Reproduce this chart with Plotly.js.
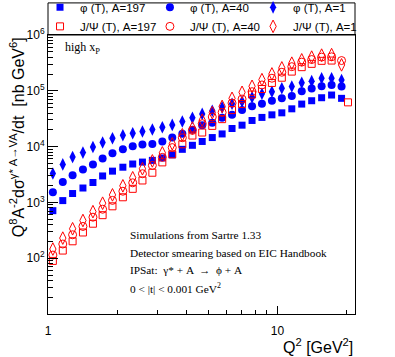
<!DOCTYPE html>
<html>
<head>
<meta charset="utf-8">
<script src="https://cdn.plot.ly/plotly-3.0.1.min.js"></script>
<style>
  html, body { margin: 0; padding: 0; background: #ffffff; }
  #chart { width: 395px; height: 357px; }
</style>
</head>
<body>
<div id="chart"></div>
<script>
// --- DATA ---
const q2 = [1.05, 1.16, 1.28, 1.42, 1.57, 1.73, 1.91, 2.12, 2.34, 2.58,
            2.85, 3.15, 3.48, 3.85, 4.26, 4.70, 5.20, 5.74, 6.34, 7.01,
            7.75, 8.56, 9.46, 10.45, 11.55, 12.76, 14.1, 15.58, 17.22, 19.03];
const q2Jpsi197 = [1.05, 1.16, 1.28, 1.42, 1.57, 1.73, 1.91, 2.12, 2.34, 2.58,
            2.85, 3.15, 3.48, 3.85, 4.26, 4.70, 5.20, 5.74, 6.34, 7.01,
            7.75, 8.56, 9.46, 10.45, 11.55, 12.76, 14.1, 15.58, 17.22, 20.3];

const phiA197 = [711, 1077, 1442, 1811, 2275, 2978, 3632, 4273, 4877, 5280,
                 5665, 6256, 7115, 8937, 10550, 12360, 14520, 16870, 21090, 24210,
                 29390, 33340, 37080, 40290, 47550, 57820, 66370, 75140, 83980, 73260];
const phiA40 = [1521, 2321, 3077, 3898, 4800, 6105, 7568, 8937, 10120, 10870,
                11190, 12300, 14520, 17010, 20090, 24210, 26740, 33040, 37080, 45470,
                52810, 58310, 66040, 73260, 80560, 97960, 109900, 120400, 127300, 119500];
const phiA1 = [3304, 4800, 6500, 7800, 9840, 11810, 14120, 15990, 17380, 18620,
               20240, 22260, 24500, 28200, 32760, 38520, 43780, 50440, 58600, 64170,
               76360, 88680, 96380, 111000, 119500, 139300, 148900, 168000, 168000, 156600];
const jpsiA197 = [89.4, 137.1, 200.9, 289.1, 415, 590.6, 850.9, 1236, 1750, 2472,
                  3402, 5212, 7262, 10990, 15780, 17870, 23500, 31040, 45080, 57820,
                  85710, 107700, 138300, 171500, 220800, 265100, 304100, 344400, 348500, 62100];
const jpsiA40 = [113.7, 179.5, 263, 370.7, 543, 754, 1086, 1585, 2245, 3264,
                 4603, 6415, 9595, 14420, 19500, 25750, 34020, 41010, 60260, 71150,
                 96380, 127300, 168000, 215300, 270600, 326500, 363300, 401800, 406400, 348500];
const jpsiA1 = [145.9, 229.2, 337.1, 473.9, 682.8, 967.7, 1365, 1983, 2763, 4014,
                5548, 7731, 11230, 16320, 21530, 29780, 40630, 52600, 73260, 93970,
                120400, 158500, 200800, 257500, 312900, 359100, 401800, 436300, 445500, 291700];

const seriesNames = ['\u03c6 (T), A=197', '\u03c6 (T), A=40', '\u03c6 (T), A=1',
                     'J/\u03a8 (T), A=197', 'J/\u03a8 (T), A=40', 'J/\u03a8 (T), A=1'];

const BLUE = '#0000ff';
const RED = '#ff0000';

// each A value gets its own legend column (phi on top, J/Psi below)
function makeTrace(x, y, name, symbol, color, size, legendId) {
    const open = symbol.endsWith('-open');
    return {
        x: x,
        y: y,
        name: name,
        legend: legendId,
        type: 'scatter',
        mode: 'markers',
        marker: {
            symbol: symbol,
            size: size,
            color: color,
            line: { color: color, width: open ? 1 : 0 }
        },
        hoverinfo: 'x+y+name'
    };
}

const traces = [
    makeTrace(q2, phiA197, seriesNames[0], 'square', BLUE, 7, 'legend'),
    makeTrace(q2, phiA40, seriesNames[1], 'circle', BLUE, 8, 'legend2'),
    makeTrace(q2, phiA1, seriesNames[2], 'diamond-tall', BLUE, 9, 'legend3'),
    makeTrace(q2Jpsi197, jpsiA197, seriesNames[3], 'square-open', RED, 7, 'legend'),
    makeTrace(q2, jpsiA40, seriesNames[4], 'circle-open', RED, 8, 'legend2'),
    makeTrace(q2, jpsiA1, seriesNames[5], 'diamond-tall-open', RED, 9, 'legend3')
];

const serif = 'Liberation Serif, Times New Roman, serif';
const sans = 'Liberation Sans, Arial, sans-serif';

const infoLines = [
    'Simulations from Sartre 1.33',
    'Detector smearing based on EIC Handbook',
    'IPSat:  \u03b3* + A  \u2192  \u03d5 + A',
    '0 < |t| < 0.001 GeV<sup>2</sup>'
];
const infoY = [0.284, 0.219, 0.156, 0.093];

const annotations = infoLines.map((t, i) => ({
    text: t, xref: 'paper', yref: 'paper', x: 0.262, y: infoY[i],
    xanchor: 'left', yanchor: 'middle', showarrow: false,
    font: { family: serif, size: 11.3, color: '#000' }
}));

annotations.push({
    text: 'high x<sub>P</sub>', xref: 'paper', yref: 'paper', x: 0.05, y: 0.955,
    xanchor: 'left', yanchor: 'middle', showarrow: false,
    font: { family: serif, size: 12, color: '#000' }
});
annotations.push({
    text: 'Q<sup>2</sup> [GeV<sup>2</sup>]', xref: 'paper', yref: 'paper', x: 1.0, y: -0.115,
    xanchor: 'right', yanchor: 'middle', showarrow: false,
    font: { family: sans, size: 16, color: '#000' }
});
annotations.push({
    text: 'Q<sup>8</sup>A<sup>-2</sup>d\u03c3<sup>\u03b3* A\u2192VA</sup>/dt  [nb GeV<sup>6</sup>]',
    xref: 'paper', yref: 'paper', x: -0.1, y: 1.0, textangle: -90,
    xanchor: 'center', yanchor: 'top', showarrow: false,
    font: { family: sans, size: 16, color: '#000' }
});

function legendAt(xPaper) {
    return {
        orientation: 'v',
        x: xPaper, y: 1.151, xanchor: 'left', yanchor: 'top',
        bgcolor: 'rgba(0,0,0,0)',
        borderwidth: 0,
        font: { family: sans, size: 11.5, color: '#000' },
        tracegroupgap: 0,
        itemwidth: 30
    };
}

const layout = {
    width: 395,
    height: 357,
    margin: { l: 48, r: 40, t: 35, b: 43, autoexpand: false },
    paper_bgcolor: '#ffffff',
    plot_bgcolor: '#ffffff',
    font: { family: sans, size: 12, color: '#000' },
    showlegend: true,
    legend: legendAt(-0.026),
    legend2: legendAt(0.332),
    legend3: legendAt(0.668),
    xaxis: {
        type: 'log',
        range: [0, 1.338],
        tickvals: [1, 10],
        ticktext: ['1', '10'],
        ticks: 'inside',
        ticklen: 8,
        tickcolor: '#000',
        showgrid: false,
        zeroline: false,
        showline: true,
        linecolor: '#000',
        linewidth: 1,
        mirror: true,
        ticklabelstandoff: 6,
        tickfont: { family: sans, size: 12 },
        minor: { ticks: 'inside', ticklen: 4, tickcolor: '#000', tickvals: [2, 3, 4, 5, 6, 7, 8, 9, 20] }
    },
    yaxis: {
        type: 'log',
        range: [1, 6],
        tickvals: [100, 1000, 10000, 100000, 1000000],
        ticktext: ['10<sup>2</sup>', '10<sup>3</sup>', '10<sup>4</sup>', '10<sup>5</sup>', '10<sup>6</sup>'],
        ticks: 'inside',
        ticklen: 10,
        tickcolor: '#000',
        showgrid: false,
        zeroline: false,
        showline: true,
        linecolor: '#000',
        linewidth: 1,
        mirror: true,
        tickfont: { family: sans, size: 12 },
        minor: {
            ticks: 'inside', ticklen: 5, tickcolor: '#000',
            tickvals: [20, 30, 40, 50, 60, 70, 80, 90, 200, 300, 400, 500, 600, 700, 800, 900,
                       2000, 3000, 4000, 5000, 6000, 7000, 8000, 9000,
                       20000, 30000, 40000, 50000, 60000, 70000, 80000, 90000,
                       200000, 300000, 400000, 500000, 600000, 700000, 800000, 900000]
        }
    },
    shapes: [{
        type: 'rect', xref: 'paper', yref: 'paper', x0: 0, x1: 1, y0: 1, y1: 1.115,
        line: { color: '#000', width: 1 }, fillcolor: 'rgba(0,0,0,0)'
    }],
    annotations: annotations
};

Plotly.newPlot('chart', traces, layout, { displayModeBar: false, staticPlot: true });
</script>
</body>
</html>
